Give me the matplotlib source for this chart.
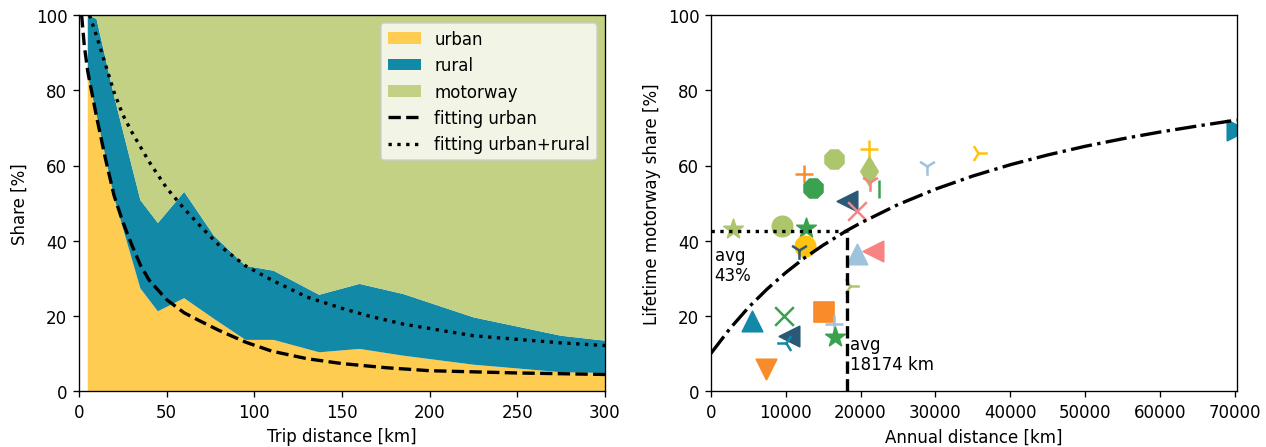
import matplotlib
matplotlib.use("Agg")
import matplotlib.pyplot as plt

# ── Palette ────────────────────────────────────────────────────
URBAN_C    = "#FECC50"
RURAL_C    = "#1289A7"
MOTORWAY_C = "#C2D184"

YELLOW = "#FFC20E"
ORANGE = "#F98B2B"
TEAL   = "#1289A7"
DARK   = "#2A5975"
LBLUE  = "#9EC3DD"
GREEN  = "#3AA14E"
LGREEN = "#AEC66B"
SALMON = "#F88383"

# ── Left panel: road type share per trip distance ──────────────
trip_km     = [5, 10, 20, 35, 45, 60, 77, 95, 111, 137, 160, 185, 225, 275, 300]
urban_share = [84, 73.6, 51.5, 27.3, 21.2, 24.7, 19.2, 13.6, 13.6, 10.3, 11.2, 9.4, 7.0, 5.0, 4.8]
rural_share = [16, 25.4, 27.0, 23.5, 23.5, 28.3, 22.1, 19.7, 18.4, 15.3, 17.3, 16.4, 12.6, 9.7, 8.6]
motorway_share = [0, 1.0, 21.5, 49.2, 55.3, 47.0, 58.7, 66.7, 68.0, 74.4, 71.5, 74.2, 80.4, 85.3, 86.6]

fit_urban_km = [1.5, 3, 5, 7.5, 10, 15, 20, 25, 30, 35, 40, 50, 60, 70, 80, 95,
                110, 130, 150, 175, 200, 250, 300]
fit_urban    = [100, 92, 85, 79, 73, 62, 52, 45, 39, 33.5, 29.5, 24.3, 20.8, 18.4,
                16.1, 13, 10.6, 8.6, 7.3, 6.2, 5.4, 4.8, 4.4]

fit_ur_km = [6, 10, 15, 20, 25, 30, 35, 40, 50, 60, 70, 80, 95, 110, 130, 150,
             165, 185, 225, 275, 300]
fit_ur    = [100, 94.5, 87, 79.5, 73.5, 69, 65, 61, 54, 48.5, 43.5, 38.7, 33.3,
             29.5, 25, 22, 20, 17.8, 14.7, 12.8, 12.1]

# ── Right panel: vehicles ──────────────────────────────────────
annual_km = [3000, 9500, 12700, 12600, 11800, 12500, 13700, 16500, 21100, 21100,
             21300, 22400, 18200, 19500, 19500, 21700, 18600, 28900, 35700, 70300,
             5500, 9700, 10400, 10000, 15100, 16400, 16600, 7300]
motorway_pct = [43.1, 44.0, 43.5, 38.6, 37.5, 57.7, 53.9, 61.7, 64.4, 58.6,
                55.5, 53.7, 50.6, 48.0, 36.4, 37.3, 28.0, 59.9, 63.3, 69.5,
                18.7, 20.0, 14.7, 12.9, 21.1, 17.8, 14.3, 5.9]
markers = ["*", "o", "*", "o", "1", "+", "8", "8", "+", "d",
           "1", "|", "<", "x", "^", "<", "4", "1", "4", ">",
           "^", "x", "<", "3", "s", "+", "*", "v"]
colors = [LGREEN, LGREEN, GREEN, YELLOW, DARK, ORANGE, GREEN, LGREEN, YELLOW, LGREEN,
          SALMON, GREEN, DARK, SALMON, LBLUE, SALMON, LGREEN, LBLUE, YELLOW, TEAL,
          TEAL, GREEN, DARK, TEAL, ORANGE, LBLUE, GREEN, ORANGE]

curve_km  = [0, 2500, 5000, 7500, 10000, 12500, 15000, 18174, 20000, 25000, 30000,
             35000, 40000, 45000, 50000, 55000, 60000, 65000, 70300]
curve_pct = [10, 16.5, 22.2, 27.1, 31.5, 35.4, 38.8, 42.7, 44.7, 49.6, 53.7,
             57.2, 60.2, 62.8, 65.1, 67.1, 68.9, 70.5, 72.1]

AVG_KM = 18174
AVG_PCT = 42.7

LINE_MARKERS = {"+", "x", "1", "3", "4", "|"}

fig, (ax1, ax2) = plt.subplots(1, 2, figsize=(10.55, 3.733), dpi=120)
fig.subplots_adjust(left=0.0624, right=0.977, bottom=0.125, top=0.964, wspace=0.2015)

# left: stacked shares with fitted curves
ax1.stackplot(trip_km, urban_share, rural_share, motorway_share,
              colors=[URBAN_C, RURAL_C, MOTORWAY_C],
              labels=["urban", "rural", "motorway"])
ax1.plot(fit_urban_km, fit_urban, color="black", ls="--", lw=2, label="fitting urban")
ax1.plot(fit_ur_km, fit_ur, color="black", ls=":", lw=2, label="fitting urban+rural")
ax1.set_xlim(0, 300)
ax1.set_ylim(0, 100)
ax1.set_xlabel("Trip distance [km]")
ax1.set_ylabel("Share [%]")
ax1.legend(loc="upper right")

# right: lifetime motorway share per vehicle
for x, y, m, c in zip(annual_km, motorway_pct, markers, colors):
    ax2.scatter(x, y, marker=m, color=c, s=125 if m in LINE_MARKERS else 150)
ax2.plot(curve_km, curve_pct, color="black", ls="-.", lw=2)
ax2.plot([0, AVG_KM], [AVG_PCT, AVG_PCT], color="black", ls=":", lw=2)
ax2.plot([AVG_KM, AVG_KM], [0, AVG_PCT], color="black", ls="--", lw=2)
ax2.text(500, AVG_PCT - 4, f"avg\n{AVG_PCT:.0f}%", va="top", ha="left")
ax2.text(AVG_KM + 400, 15, f"avg\n{AVG_KM} km", va="top", ha="left")
ax2.set_xlim(0, max(annual_km))
ax2.set_ylim(0, 100)
ax2.set_xlabel("Annual distance [km]")
ax2.set_ylabel("Lifetime motorway share [%]")

fig.savefig("out.png", dpi=120)
